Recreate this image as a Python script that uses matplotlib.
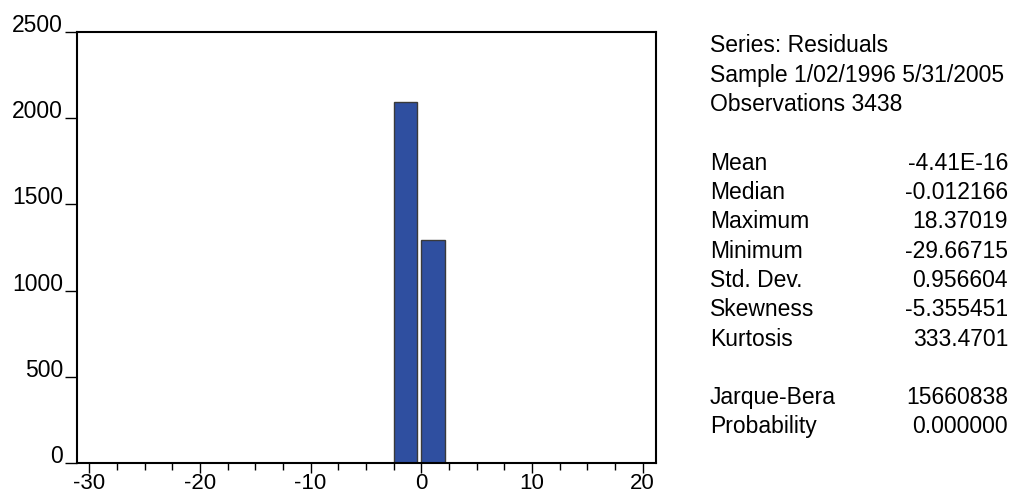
import matplotlib.pyplot as plt
from matplotlib.ticker import MultipleLocator

plt.rcParams['font.family'] = ['Liberation Sans', 'DejaVu Sans']
plt.rcParams['axes.unicode_minus'] = False

# Histogramm der Residuen: linke Klassengrenzen und Haeufigkeiten
bin_left = [-2.5, 0.0]
counts = [2096, 1292]

y_ticks = [0, 500, 1000, 1500, 2000, 2500]
x_ticks = [-30, -20, -10, 0, 10, 20]

# Kennzahlen rechts neben dem Histogramm
header = ['Series: Residuals', 'Sample 1/02/1996 5/31/2005', 'Observations 3438']
stat_names = ['Mean', 'Median', 'Maximum', 'Minimum', 'Std. Dev.', 'Skewness', 'Kurtosis']
stat_values = ['-4.41E-16', '-0.012166', '18.37019', '-29.66715', '0.956604', '-5.355451', '333.4701']
test_names = ['Jarque-Bera', 'Probability']
test_values = ['15660838', '0.000000']

fig = plt.figure(figsize=(10.2, 4.95), dpi=100)
ax = fig.add_axes([77 / 1020, 1 - 463 / 495, 579 / 1020, 431 / 495])

ax.bar(bin_left, counts, width=2.1, align='edge', color='#2f4fa0',
       edgecolor='#3a3a3a', linewidth=1)

ax.set_xlim(-31.1, 21.2)
ax.set_ylim(0, 2500)
ax.set_yticks(y_ticks)
ax.set_xticks(x_ticks)
ax.xaxis.set_minor_locator(MultipleLocator(2.5))

for s in ax.spines.values():
    s.set_linewidth(1.5)
    s.set_color('black')

ax.tick_params(axis='x', which='major', direction='out', length=7, width=1, labelsize=16, pad=0)
ax.tick_params(axis='x', which='minor', direction='out', length=5, width=1)
ax.tick_params(axis='y', direction='out', length=9, width=1, labelsize=16.5, pad=1)
for lbl in ax.get_yticklabels():
    lbl.set_va('baseline')

# Textblock
x_left = 710 / 1020
x_right = 1008 / 1020
row_h = 29.3 / 495
y0 = 1 - 46 / 495
fs = 16.5

row = 0
for line in header:
    fig.text(x_left, y0 - row * row_h, line, fontsize=fs, va='center', ha='left')
    row += 1
row += 1
for name, val in zip(stat_names, stat_values):
    fig.text(x_left, y0 - row * row_h, name, fontsize=fs, va='center', ha='left')
    fig.text(x_right, y0 - row * row_h, val, fontsize=fs, va='center', ha='right')
    row += 1
row += 1
for name, val in zip(test_names, test_values):
    fig.text(x_left, y0 - row * row_h, name, fontsize=fs, va='center', ha='left')
    fig.text(x_right, y0 - row * row_h, val, fontsize=fs, va='center', ha='right')
    row += 1

fig.savefig('out.png', dpi=100)
